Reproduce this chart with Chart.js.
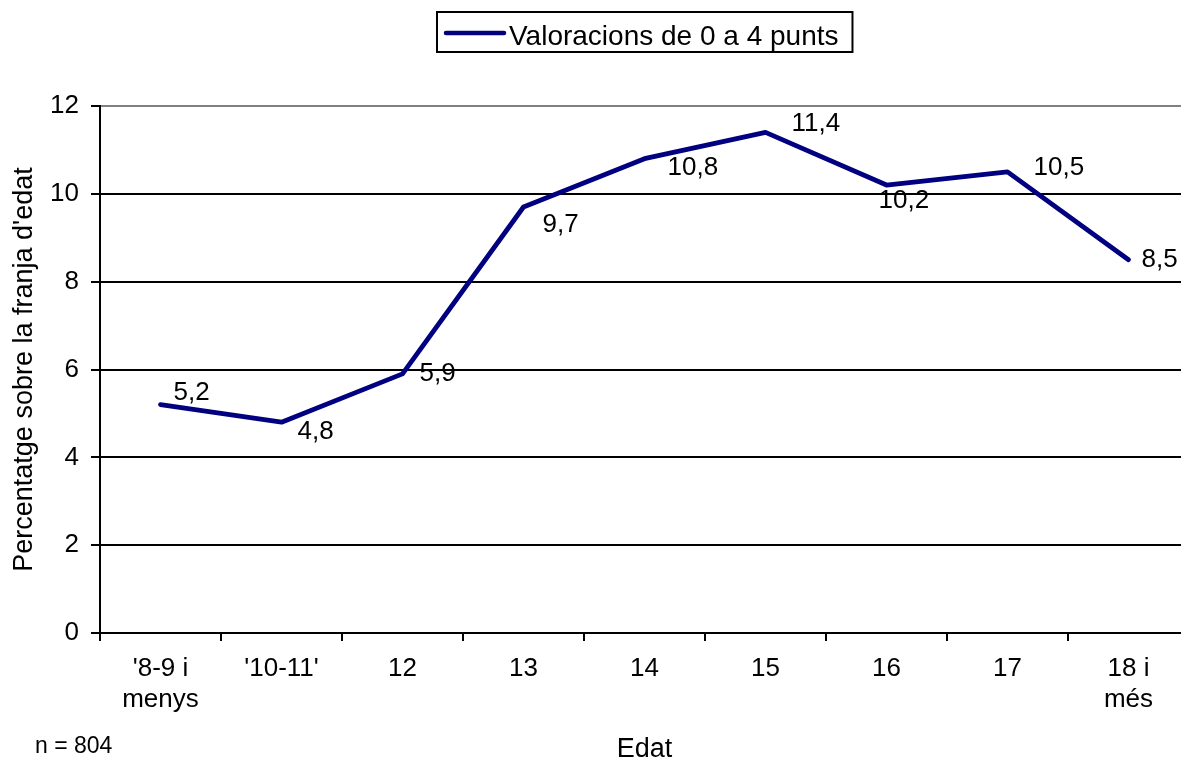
<!DOCTYPE html>
<html><head><meta charset="utf-8">
<script src="https://cdn.jsdelivr.net/npm/chart.js@4/dist/chart.umd.min.js"></script>
<style>
html,body{margin:0;padding:0;overflow:hidden;background:#fff;width:1181px;height:762px}
#wrap{position:relative;width:1200px;height:770px}
</style></head>
<body><div id="wrap"><canvas id="c"></canvas></div>
<script>
const categories = [["'8-9 i","menys"],"'10-11'","12","13","14","15","16","17",["18 i","més"]];
const values = [5.2,4.8,5.9,9.7,10.8,11.4,10.2,10.5,8.5];
const seriesName = "Valoracions de 0 a 4 punts";
const yTicks = [0,2,4,6,8,10,12];
const xTitle = "Edat";
const yTitle = "Percentatge sobre la franja d'edat";
const note = "n = 804";
const labelOffsets = [[13,-12],[16,10],[17,0],[19,18],[23,9],[26,-9],[-8,16],[26,-4],[13,0]];
const FONT = "'Liberation Sans', Arial, sans-serif";
const NAVY = '#000080';

const decor = {
  id: 'decor',
  afterDatasetsDraw(chart) {
    const ctx = chart.ctx;
    const meta = chart.getDatasetMeta(0);
    ctx.save();
    ctx.fillStyle = '#000';
    ctx.font = `26px ${FONT}`;
    ctx.textAlign = 'left';
    ctx.textBaseline = 'middle';
    meta.data.forEach((pt, i) => {
      const o = labelOffsets[i];
      ctx.fillText(String(values[i]).replace('.', ','), pt.x + o[0], pt.y + o[1]);
    });
    ctx.restore();
  },
  afterDraw(chart) {
    const ctx = chart.ctx;
    const ca = chart.chartArea;
    ctx.save();
    ctx.font = `28px ${FONT}`;
    const ds = chart.data.datasets[0];
    const tw = ctx.measureText(ds.label).width;
    const lineLen = 58, gap = 5, padL = 9, padR = 14;
    const bw = padL + lineLen + gap + tw + padR;
    const bx = Math.round((ca.left + ca.right) / 2 - bw / 2);
    const by = 12, bh = 40;
    ctx.strokeStyle = '#000';
    ctx.lineWidth = 2;
    ctx.strokeRect(bx, by, bw, bh);
    ctx.strokeStyle = ds.borderColor;
    ctx.lineWidth = 4.5;
    ctx.lineCap = 'round';
    ctx.beginPath();
    ctx.moveTo(bx + padL, by + 21);
    ctx.lineTo(bx + padL + lineLen, by + 21);
    ctx.stroke();
    ctx.fillStyle = '#000';
    ctx.textAlign = 'left';
    ctx.textBaseline = 'alphabetic';
    ctx.fillText(ds.label, bx + padL + lineLen + gap, by + 33);
    ctx.font = `23px ${FONT}`;
    ctx.fillText(note, 35, 753);
    ctx.restore();
  }
};

new Chart(document.getElementById('c'), {
  type: 'line',
  data: {
    labels: categories,
    datasets: [{
      label: seriesName,
      data: values,
      borderColor: NAVY,
      backgroundColor: NAVY,
      borderWidth: 4.8,
      borderCapStyle: 'round',
      borderJoinStyle: 'round',
      pointRadius: 0,
      tension: 0,
      fill: false
    }]
  },
  options: {
    responsive: true,
    maintainAspectRatio: false,
    animation: false,
    devicePixelRatio: 1,
    layout: { padding: { top: 106, right: 11, left: 0, bottom: 0 } },
    plugins: { legend: { display: false }, tooltip: { enabled: false } },
    scales: {
      x: {
        type: 'category',
        offset: true,
        grid: { offset: true, drawOnChartArea: false, drawTicks: true, tickLength: 8, color: '#000', lineWidth: 2 },
        border: { display: true, color: '#000', width: 2 },
        ticks: { font: { family: FONT, size: 26 }, color: '#000', padding: 12, maxRotation: 0, autoSkip: false, lineHeight: 1.15 },
        title: { display: true, text: xTitle, color: '#000', font: { family: FONT, size: 27 }, padding: { top: 0, bottom: 4 } },
        afterFit: s => { s.height = 137; }
      },
      y: {
        min: 0, max: 12,
        afterBuildTicks: s => { s.ticks = yTicks.map(v => ({ value: v })); },
        ticks: { font: { family: FONT, size: 26 }, color: '#000', padding: 12 },
        grid: {
          color: c => (c.tick && c.tick.value === 12) ? '#808080' : '#000',
          tickColor: '#000', lineWidth: 2, tickLength: 9
        },
        border: { display: true, color: '#000', width: 2 },
        title: { display: true, text: yTitle, color: '#000', font: { family: FONT, size: 27 }, padding: { top: 8, bottom: 8 } },
        afterFit: s => { s.width = 100; }
      }
    }
  },
  plugins: [decor]
});
</script>
</body></html>
